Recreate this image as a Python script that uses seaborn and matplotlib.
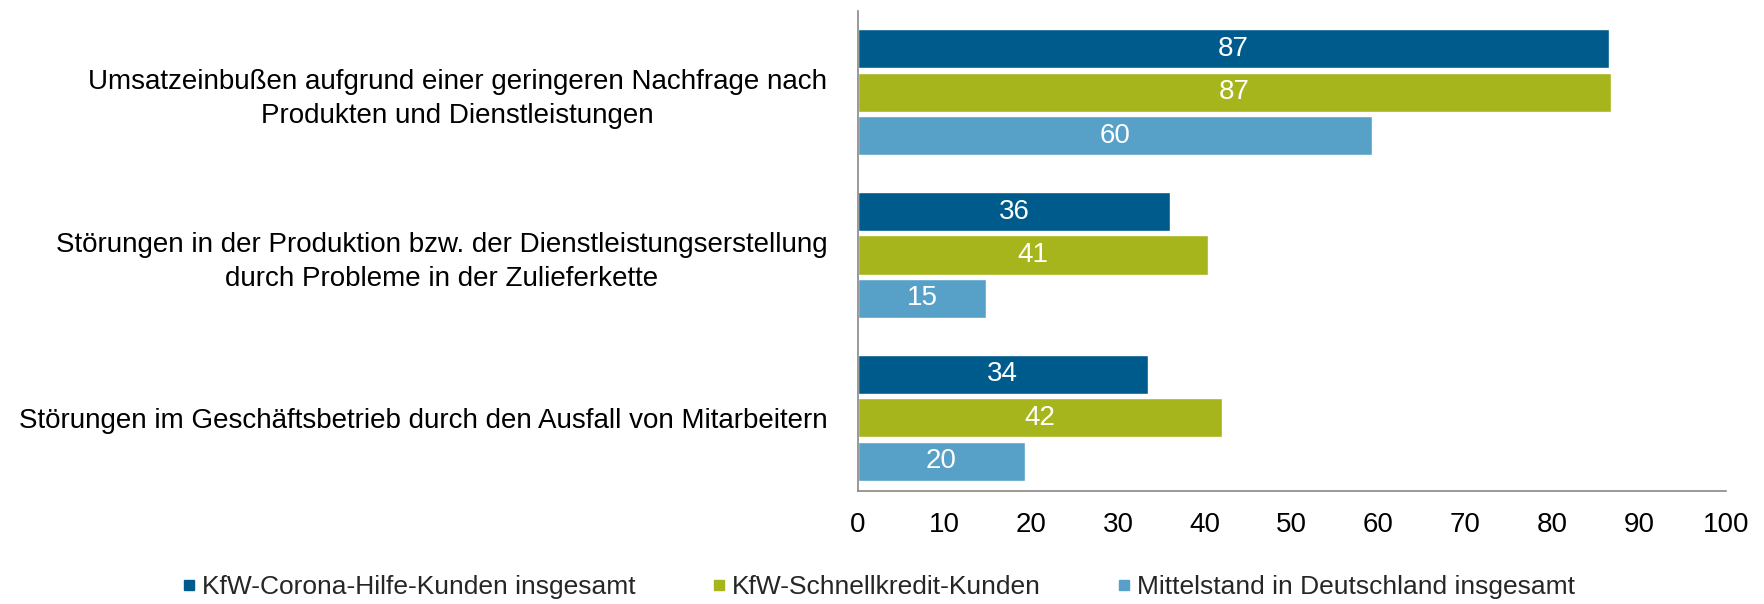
import numpy as np
import pandas as pd
import matplotlib
matplotlib.use("Agg")
import matplotlib.pyplot as plt
from matplotlib.lines import Line2D
import seaborn as sns

# data
categories = [
    "Umsatzeinbußen aufgrund einer geringeren Nachfrage nach\nProdukten und Dienstleistungen",
    "Störungen in der Produktion bzw. der Dienstleistungserstellung\ndurch Probleme in der Zulieferkette",
    "Störungen im Geschäftsbetrieb durch den Ausfall von Mitarbeitern",
]
series = [
    "KfW-Corona-Hilfe-Kunden insgesamt",
    "KfW-Schnellkredit-Kunden",
    "Mittelstand in Deutschland insgesamt",
]
corona_hilfe = [86.6, 36.0, 33.4]
schnellkredit = [86.8, 40.4, 42.0]
mittelstand = [59.3, 14.8, 19.3]
labels_corona = ["87", "36", "34"]
labels_schnell = ["87", "41", "42"]
labels_mittel = ["60", "15", "20"]
colors = ["#005B8D", "#A6B51B", "#57A1C8"]

rows = []
for s, vals in zip(series, [corona_hilfe, schnellkredit, mittelstand]):
    for c, v in zip(categories, vals):
        rows.append({"Kategorie": c, "Gruppe": s, "Wert": v})
df = pd.DataFrame(rows)

sns.set_style("white")
plt.rcParams["font.family"] = ["Liberation Sans", "DejaVu Sans"]
FS = 20

fig = plt.figure(figsize=(17.65, 6.04), dpi=100)
ax = fig.add_axes([0.486, 0.187, 0.4917, 0.795])

sns.barplot(data=df, x="Wert", y="Kategorie", hue="Gruppe", orient="h",
            palette=colors, width=0.8, saturation=1, legend=False, ax=ax)

# small white gap between bars of a group
for p in ax.patches:
    h = p.get_height()
    p.set_y(p.get_y() + h * 0.05)
    p.set_height(h * 0.9)

for cont, labs in zip(ax.containers, [labels_corona, labels_schnell, labels_mittel]):
    ax.bar_label(cont, labels=labs, label_type="center", color="white", fontsize=FS)

ax.set_xlim(0, 100)
ax.set_ylim(2.45, -0.5)
ax.set_xticks(np.arange(0, 101, 10))
ax.set_xlabel("")
ax.set_ylabel("")
ax.tick_params(axis="x", length=7, width=1, color="#888888", labelsize=FS, pad=8,
               direction="out", labelcolor="black")
ax.tick_params(axis="y", length=0, labelsize=FS, pad=22, labelcolor="black")
for lbl in ax.get_yticklabels():
    lbl.set_horizontalalignment("right")
    lbl.set_multialignment("center")
    lbl.set_linespacing(1.4)

for side in ["top", "right"]:
    ax.spines[side].set_visible(False)
for side in ["left", "bottom"]:
    ax.spines[side].set_color("#888888")
    ax.spines[side].set_linewidth(1.2)

handles = [Line2D([0], [0], marker="s", linestyle="", markersize=7,
                  markerfacecolor=c, markeredgecolor=c) for c in colors]
fig.legend(handles, series, loc="center", bbox_to_anchor=(0.498, 0.028), ncol=3,
           frameon=False, fontsize=19, handlelength=0.5, handletextpad=0.25,
           columnspacing=2.9)

fig.savefig("out.png", dpi=100)
